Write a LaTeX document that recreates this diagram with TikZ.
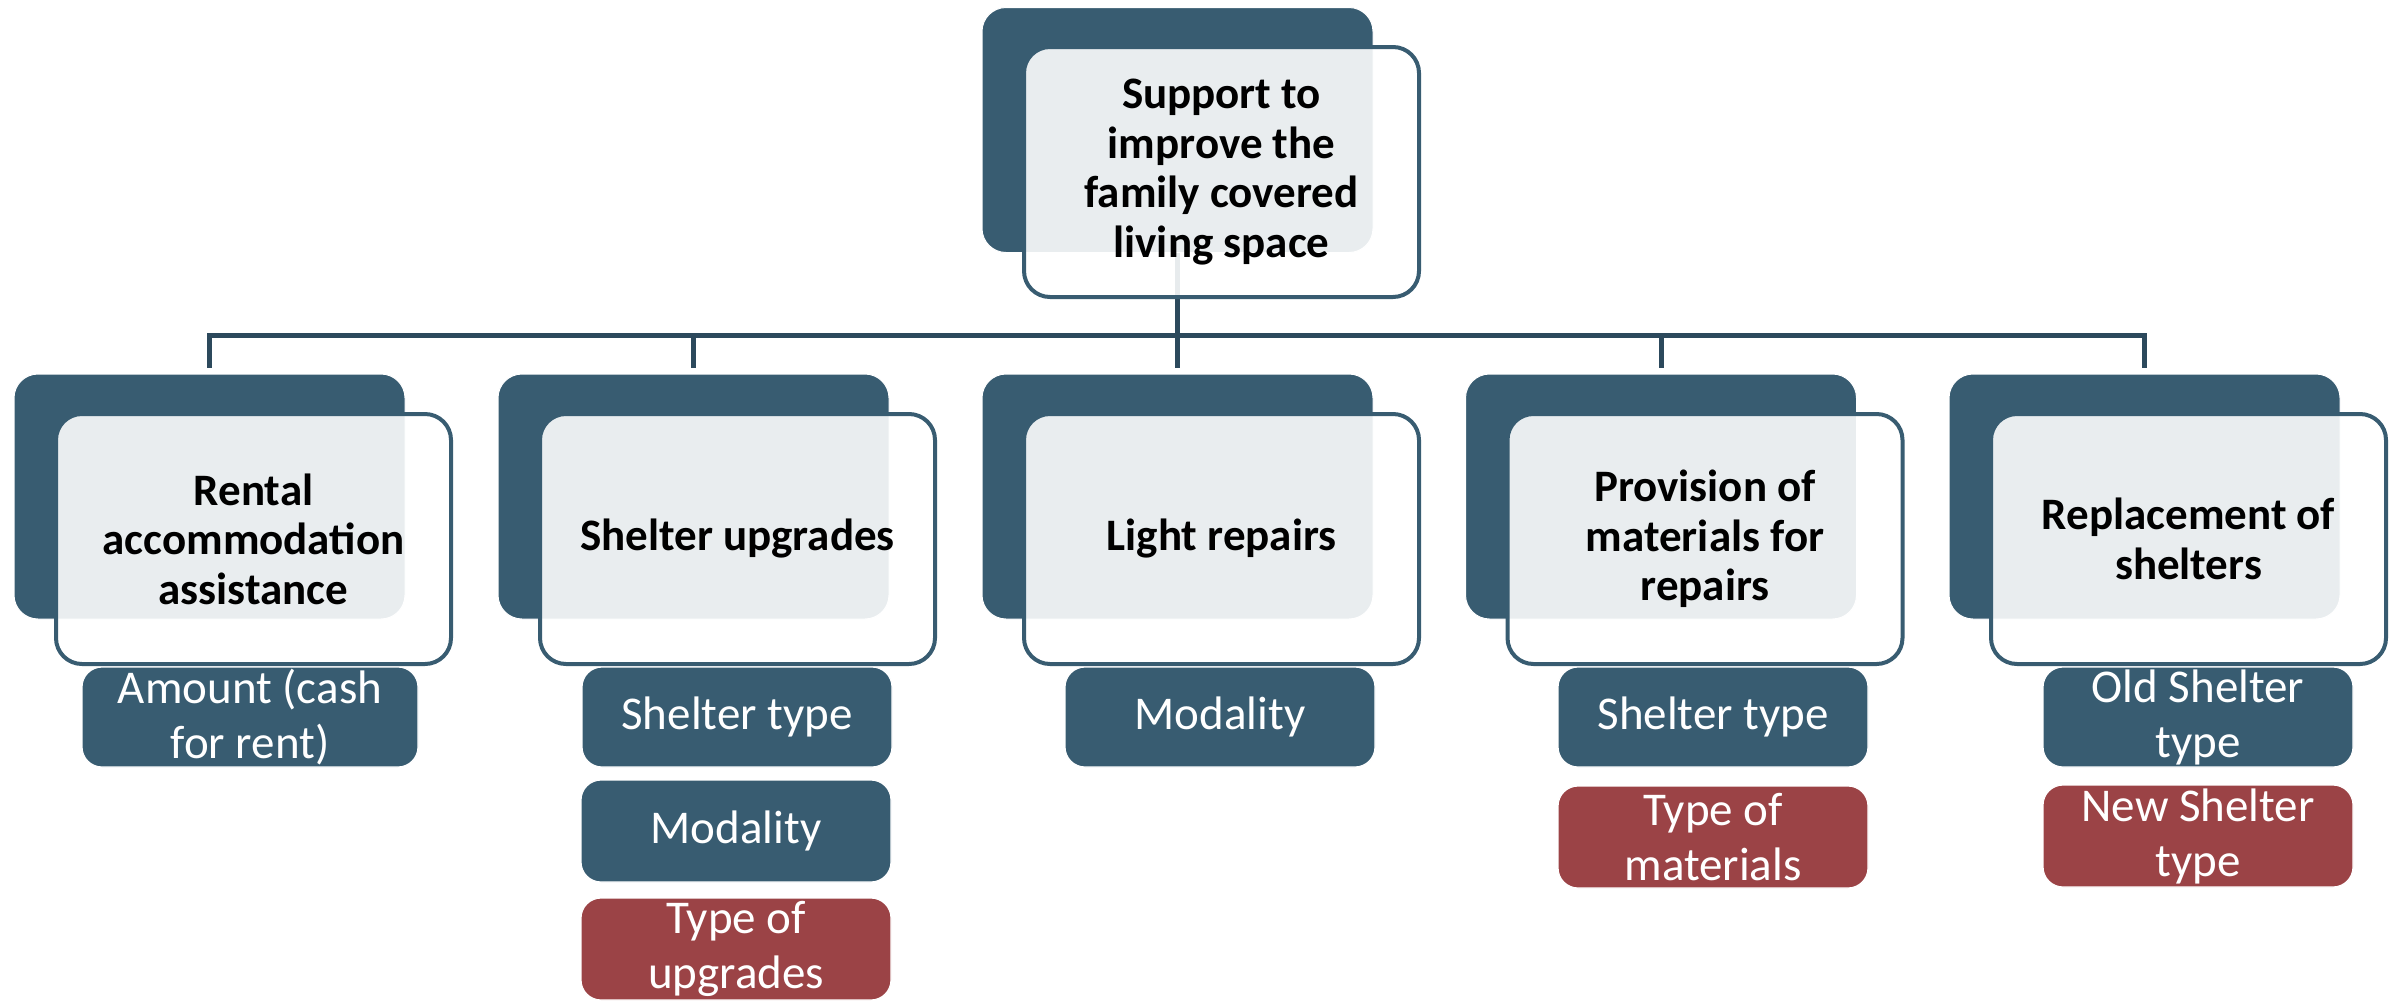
\documentclass[tikz,border=0pt]{standalone}
\usepackage{fontspec}
\setmainfont{Carlito}
\definecolor{cdark}{RGB}{56,92,113}
\definecolor{cline}{RGB}{44,73,92}
\definecolor{cred}{RGB}{155,67,70}
\tikzset{
  backbox/.style={rectangle, rounded corners=24pt, fill=cdark, draw=white, line width=1pt,
    minimum width=391pt, minimum height=245pt, inner sep=0pt},
  frontbox/.style={rectangle, rounded corners=26pt, fill=white, fill opacity=0.89, text opacity=1,
    draw=cdark, draw opacity=1, line width=4pt, minimum width=395pt, minimum height=250pt,
    inner sep=0pt, align=center, text=black,
    font=\fontsize{45}{49.5}\selectfont\bfseries},
  childbox/.style={rectangle, rounded corners=20pt, fill=cdark, draw=white, line width=1.2pt,
    minimum width=310pt, minimum height=100pt, inner sep=0pt, align=center, text=white,
    font=\fontsize{47}{55}\selectfont},
  redbox/.style={childbox, fill=cred, minimum height=102pt},
  conn/.style={draw=cline, line width=5pt, line join=miter, line cap=butt}
}
\begin{document}
\begin{tikzpicture}[x=1pt,y=-1pt]
\useasboundingbox (0,0) rectangle (2389,1002);
% back boxes
\node[backbox] (tdark) at (1177.5,130) {};
\node[backbox] (d1) at (209.5,496.5) {};
\node[backbox] (d2) at (693.5,496.5) {};
\node[backbox] (d3) at (1177.5,496.5) {};
\node[backbox] (d4) at (1661,496.5) {};
\node[backbox] (d5) at (2144.5,496.5) {};
% connectors
\coordinate (bus) at (1177.5,335);
\draw[conn] (tdark.south) -- (bus);
\draw[conn] (bus) -| ([yshift=6pt]d1.north);
\draw[conn] (bus) -| ([yshift=6pt]d2.north);
\draw[conn] (bus) -| ([yshift=6pt]d3.north);
\draw[conn] (bus) -| ([yshift=6pt]d4.north);
\draw[conn] (bus) -| ([yshift=6pt]d5.north);
% children
\node[childbox, minimum width=336pt] (c1) at (250,717) {Amount (cash\\for rent)};
\node[childbox] (c2a) at (737,717) {Shelter type};
\node[childbox, minimum height=102pt] (c2b) at (736,831) {Modality};
\node[redbox] (c2c) at (736,949) {Type of\\upgrades};
\node[childbox] (c3) at (1220,717) {Modality};
\node[childbox] (c4a) at (1713,717) {Shelter type};
\node[redbox] (c4b) at (1713,837) {Type of\\materials};
\node[childbox] (c5a) at (2198,717) {Old Shelter\\type};
\node[redbox] (c5b) at (2198,836) {New Shelter\\type};
% front boxes
\node[frontbox] (top) at (1221.5,172) {Support to\\improve the\\family covered\\living space};
\node[frontbox] (f1) at (253.5,539) {Rental\\accommodation\\assistance};
\node[frontbox] (f2) at (737.5,539) {Shelter upgrades};
\node[frontbox] (f3) at (1221.5,539) {Light repairs};
\node[frontbox] (f4) at (1705,539) {Provision of\\materials for\\repairs};
\node[frontbox] (f5) at (2188.5,539) {Replacement of\\shelters};
\end{tikzpicture}
\end{document}
